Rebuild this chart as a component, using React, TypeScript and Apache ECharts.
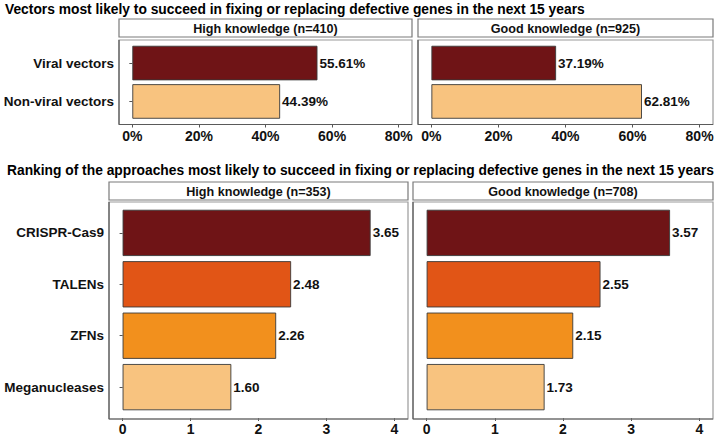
import React, { useEffect, useRef } from "react";
import * as echarts from "echarts";

const vectorCategories = ["Viral vectors", "Non-viral vectors"];
const vectorHigh = [55.61, 44.39];
const vectorGood = [37.19, 62.81];
const vectorColors = ["#6F1416", "#F8C37F"];
const pctTicks = [0, 20, 40, 60, 80];

const approachCategories = ["CRISPR-Cas9", "TALENs", "ZFNs", "Meganucleases"];
const approachHigh = [3.65, 2.48, 2.26, 1.6];
const approachGood = [3.57, 2.55, 2.15, 1.73];
const approachColors = ["#6F1416", "#E15516", "#F2901D", "#F8C37F"];
const rankTicks = [0, 1, 2, 3, 4];

const topTitle = "Vectors most likely to succeed in fixing or replacing defective genes in the next 15 years";
const bottomTitle = "Ranking of the approaches most likely to succeed in fixing or replacing defective genes in the next 15 years";
const stripLabels = ["High knowledge (n=410)", "Good knowledge (n=925)", "High knowledge (n=353)", "Good knowledge (n=708)"];

const FONT = '"Liberation Sans", Arial, Helvetica, sans-serif';

export default function App() {
  const ref = useRef<HTMLDivElement>(null);
  useEffect(() => {
    if (!ref.current) return;
    const chart = echarts.init(ref.current, null, { renderer: "svg" });

    const panels = [
      { x0: 119, x1: 412, y0: 40, y1: 124.5, sy0: 19, sy1: 37, cats: vectorCategories, vals: vectorHigh, colors: vectorColors, min: -4, max: 84, ticks: pctTicks, pct: true, showY: true },
      { x0: 418, x1: 713, y0: 40, y1: 124.5, sy0: 19, sy1: 37, cats: vectorCategories, vals: vectorGood, colors: vectorColors, min: -4, max: 84, ticks: pctTicks, pct: true, showY: false },
      { x0: 109, x1: 408, y0: 202, y1: 419, sy0: 182, sy1: 200, cats: approachCategories, vals: approachHigh, colors: approachColors, min: -0.2, max: 4.2, ticks: rankTicks, pct: false, showY: true },
      { x0: 413, x1: 713, y0: 202, y1: 419, sy0: 182, sy1: 200, cats: approachCategories, vals: approachGood, colors: approachColors, min: -0.2, max: 4.2, ticks: rankTicks, pct: false, showY: false },
    ];

    const grids: any[] = [];
    const xAxes: any[] = [];
    const yAxes: any[] = [];
    const series: any[] = [];
    const graphics: any[] = [];

    panels.forEach((p, i) => {
      const n = p.cats.length;
      const unit = (p.y1 - p.y0) / (n + 0.2);
      const gTop = p.y0 + 0.1 * unit;
      const gH = n * unit;
      grids.push({ left: p.x0, top: gTop, width: p.x1 - p.x0, height: gH, containLabel: false });
      xAxes.push({
        type: "value",
        gridIndex: i,
        min: p.min,
        max: p.max,
        offset: p.y1 - (gTop + gH),
        splitLine: { show: false },
        axisLine: { show: false },
        axisTick: { show: true, length: 3, customValues: p.ticks, lineStyle: { color: "#555", width: 1 } },
        axisLabel: {
          show: true,
          customValues: p.ticks,
          margin: 4,
          fontFamily: FONT,
          fontWeight: "bold",
          fontSize: 14,
          color: "#111",
          formatter: (v: number) => (p.pct ? `${Math.round(v)}%` : `${Math.round(v)}`),
        },
      });
      yAxes.push({
        type: "category",
        gridIndex: i,
        data: p.cats,
        inverse: true,
        axisLine: { show: false },
        axisTick: { show: p.showY, length: 3, alignWithLabel: true, lineStyle: { color: "#555", width: 1 } },
        axisLabel: { show: p.showY, margin: 5, fontFamily: FONT, fontWeight: "bold", fontSize: 13.5, color: "#111" },
        splitLine: { show: false },
      });
      series.push({
        type: "bar",
        xAxisIndex: i,
        yAxisIndex: i,
        barCategoryGap: "10%",
        data: p.vals.map((v, j) => ({ value: v, itemStyle: { color: p.colors[j] } })),
        itemStyle: { borderColor: "#3a3a3a", borderWidth: 0.9 },
        label: {
          show: true,
          position: "right",
          distance: 2,
          fontFamily: FONT,
          fontWeight: "bold",
          fontSize: 13.5,
          color: "#111",
          formatter: (d: any) => (p.pct ? `${d.value.toFixed(2)}%` : d.value.toFixed(2)),
        },
      });
      graphics.push({
        type: "rect",
        shape: { x: p.x0, y: p.y0, width: p.x1 - p.x0, height: p.y1 - p.y0 },
        style: { fill: "none", stroke: "#9a9a9a", lineWidth: 1.2 },
        z: 10,
      });
      graphics.push({ type: "line", shape: { x1: p.x0, y1: p.y0, x2: p.x0, y2: p.y1 }, style: { stroke: "#5a5a5a", lineWidth: 1.2 }, z: 11 });
      graphics.push({ type: "line", shape: { x1: p.x0, y1: p.y1, x2: p.x1, y2: p.y1 }, style: { stroke: "#5a5a5a", lineWidth: 1.2 }, z: 11 });
      graphics.push({
        type: "rect",
        shape: { x: p.x0, y: p.sy0, width: p.x1 - p.x0, height: p.sy1 - p.sy0 },
        style: { fill: "#fff", stroke: "#7a7a7a", lineWidth: 1.2 },
        z: 10,
      });
      graphics.push({
        type: "text",
        x: (p.x0 + p.x1) / 2,
        y: (p.sy0 + p.sy1) / 2 + 0.5,
        style: { text: stripLabels[i], fill: "#111", font: `bold 12.6px ${FONT}`, textAlign: "center", textVerticalAlign: "middle" },
        z: 11,
      });
    });

    graphics.push({
      type: "text",
      x: 5,
      y: 9.5,
      style: { text: topTitle, fill: "#000", font: `bold 13.8px ${FONT}`, textAlign: "left", textVerticalAlign: "middle" },
    });
    graphics.push({
      type: "text",
      x: 7,
      y: 170,
      style: { text: bottomTitle, fill: "#000", font: `bold 13.8px ${FONT}`, textAlign: "left", textVerticalAlign: "middle" },
    });

    chart.setOption({
      animation: false,
      backgroundColor: "#fff",
      grid: grids,
      xAxis: xAxes,
      yAxis: yAxes,
      series,
      graphic: graphics,
    });
    return () => chart.dispose();
  }, []);
  return <div ref={ref} style={{ position: "fixed", left: 0, top: 0, width: 719, height: 436 }} />;
}
